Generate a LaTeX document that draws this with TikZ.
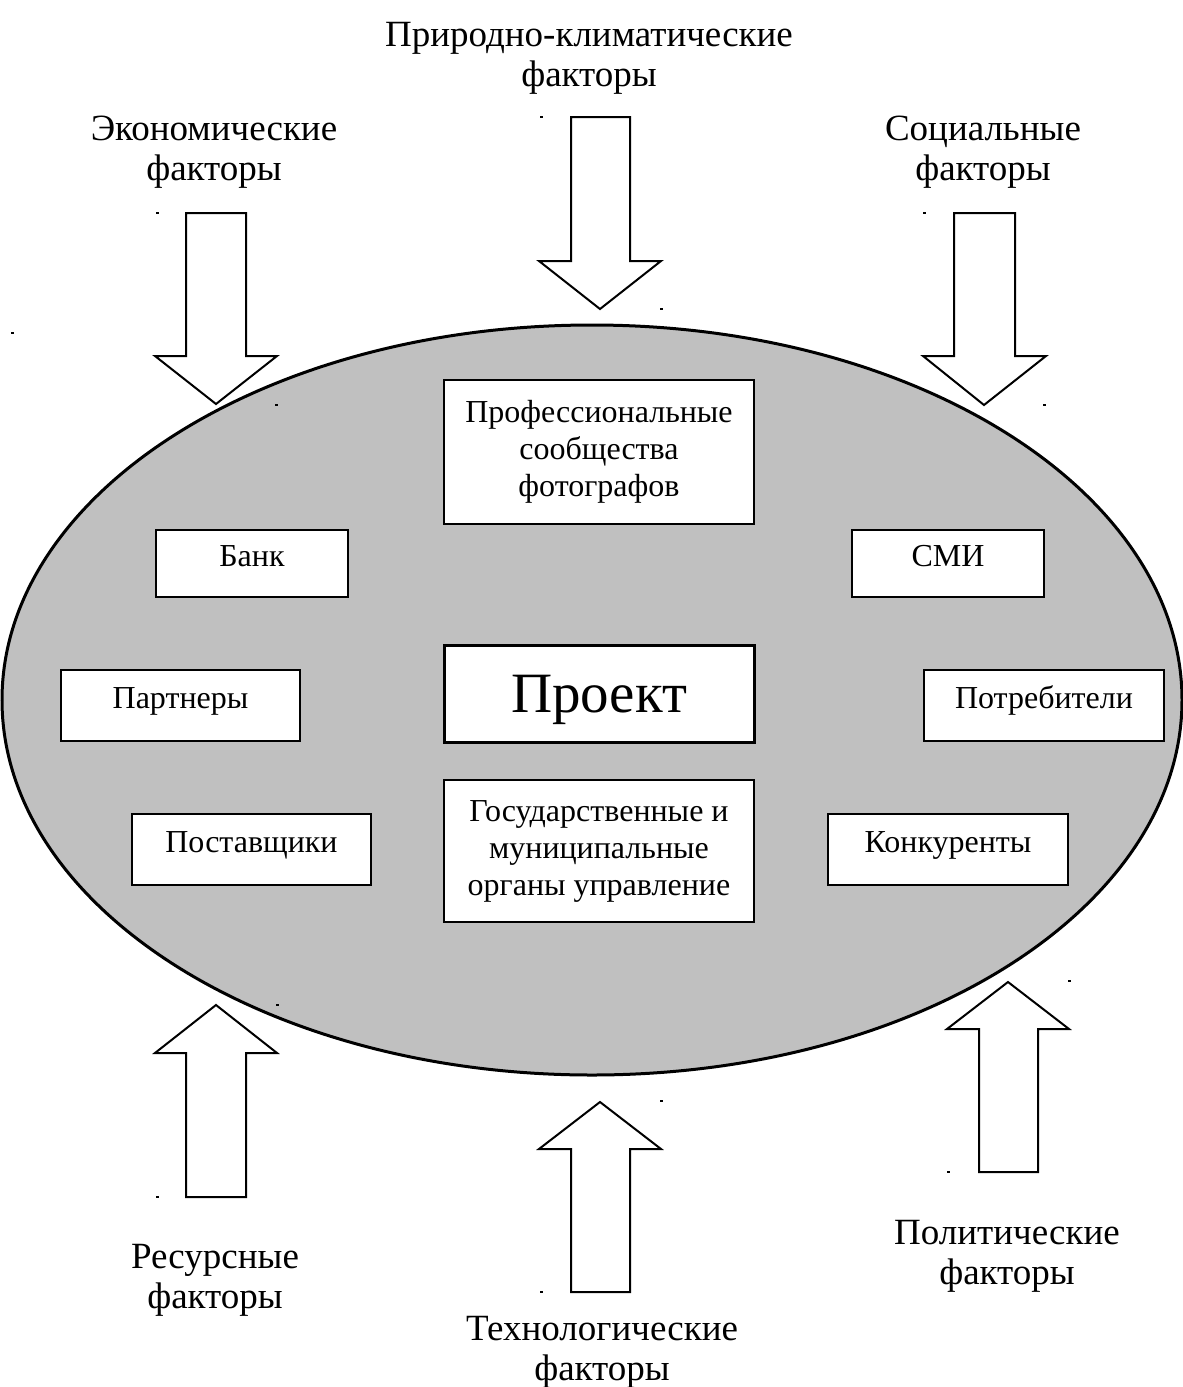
\documentclass[tikz,border=0pt]{standalone}
\usepackage{fontspec}
\setmainfont{Liberation Serif}
\definecolor{ellgray}{RGB}{192,192,192}
\begin{document}
\begin{tikzpicture}[x=0.5pt,y=-0.5pt,
  box/.style={draw=black, line width=1pt, fill=white, align=center, inner sep=0pt, font=\fontsize{16}{18.5}\selectfont},
  onebox/.style={box, text height=11pt, text depth=8pt},
  lbl/.style={align=center, anchor=base, font=\fontsize{18.5}{20}\selectfont},
  blockarrow/.style={draw=black, line width=1pt, fill=white, line join=miter},
  ell/.style={draw=black, line width=1.5pt, fill=ellgray}]
\useasboundingbox (0,0) rectangle (1183,1387);
\fill[white] (0,0) rectangle (1183,1387);
% environment ellipse
\draw[ell] (592,700) ellipse [x radius=590, y radius=375];
% block arrows
\draw[blockarrow] (186,213)--(246,213)--(246,356)--(277,356)--(216,404)--(155,356)--(186,356)--cycle;
\draw[blockarrow] (571,117)--(630,117)--(630,261)--(661,261)--(600,309)--(539,261)--(571,261)--cycle;
\draw[blockarrow] (954,213)--(1015,213)--(1015,356)--(1046,356)--(984,405)--(923,356)--(954,356)--cycle;
\draw[blockarrow] (186,1197)--(246,1197)--(246,1053)--(277,1053)--(216,1005)--(155,1053)--(186,1053)--cycle;
\draw[blockarrow] (571,1292)--(630,1292)--(630,1149)--(661,1149)--(600,1102)--(539,1149)--(571,1149)--cycle;
\draw[blockarrow] (979,1172)--(1038,1172)--(1038,1029)--(1069,1029)--(1008,982)--(947,1029)--(979,1029)--cycle;
% tiny marks
\foreach \px/\py in {157/213,276/405,541/117,661/309,924/213,1044/405,277/1005,157/1197,661/1101,541/1292,1069/981,948/1172,12/333}
  \fill[black] (\px-1.5,\py-1) rectangle (\px+1.5,\py+1);
% boxes
\node[box, minimum width=155pt, minimum height=72pt] (prof) at (599,452) {Профессиональные\\сообщества\\фотографов};
\node[onebox, minimum width=96pt, minimum height=33.5pt] (bank) at (252,563.5) {Банк};
\node[onebox, minimum width=96pt, minimum height=33.5pt] (smi) at (948,563.5) {СМИ};
\node[box, line width=1.5pt, minimum width=155pt, minimum height=48.5pt, text height=25pt, text depth=6pt, font=\fontsize{28.5}{30}\selectfont] (proj) at (599,693.5) {Проект};
\node[onebox, minimum width=119.5pt, minimum height=35.5pt] (partn) at (180.5,705.5) {Партнеры};
\node[onebox, minimum width=120pt, minimum height=35.5pt] (potr) at (1044,705.5) {Потребители};
\node[onebox, minimum width=119.5pt, minimum height=35.5pt] (postav) at (251.5,849.5) {Поставщики};
\node[onebox, minimum width=120pt, minimum height=35.5pt] (konk) at (948,849.5) {Конкуренты};
\node[box, minimum width=155pt, minimum height=71pt] (gos) at (599,851) {Государственные и\\муниципальные\\органы управление};
% factor labels (anchor = baseline of the last line)
\node[lbl] (nat) at (589,86) {Природно-климатические\\факторы};
\node[lbl] (eco) at (214,180) {Экономические\\факторы};
\node[lbl] (soc) at (983,180) {Социальные\\факторы};
\node[lbl] (res) at (215,1308) {Ресурсные\\факторы};
\node[lbl] (tech) at (602,1380) {Технологические\\факторы};
\node[lbl] (pol) at (1007,1284) {Политические\\факторы};
\end{tikzpicture}
\end{document}
